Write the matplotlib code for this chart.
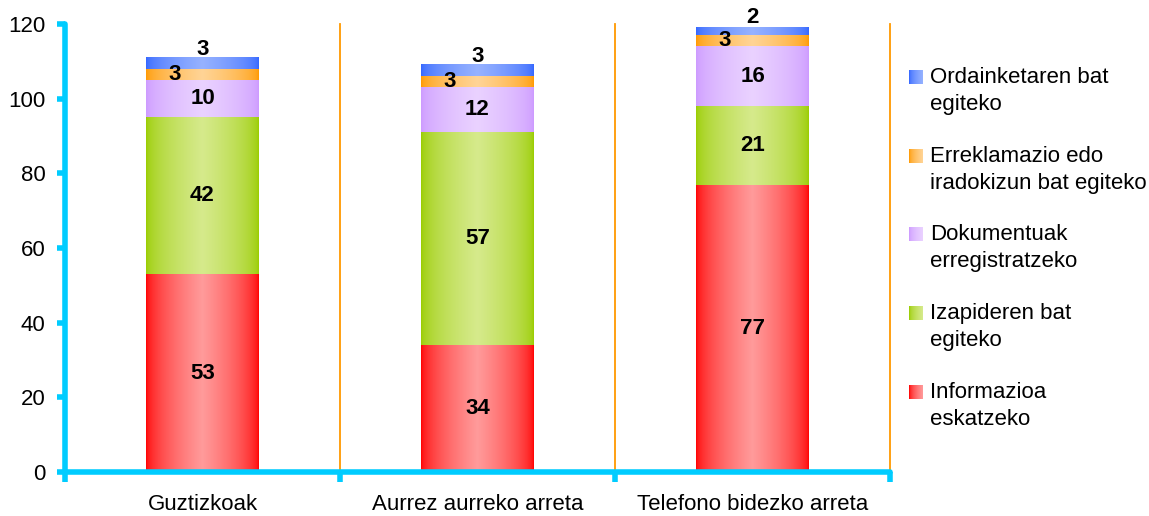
import matplotlib.pyplot as plt
import numpy as np

categories = ["Guztizkoak", "Aurrez aurreko arreta", "Telefono bidezko arreta"]
series_names = ["Informazioa\neskatzeko", "Izapideren bat\negiteko", "Dokumentuak\nerregistratzeko",
                "Erreklamazio edo\niradokizun bat egiteko", "Ordainketaren bat\negiteko"]
informazioa = [53, 34, 77]
izapidea = [42, 57, 21]
dokumentuak = [10, 12, 16]
erreklamazioa = [3, 3, 3]
ordainketa = [3, 3, 2]
yticks = [0, 20, 40, 60, 80, 100, 120]

series = [informazioa, izapidea, dokumentuak, erreklamazioa, ordainketa]
edge_cols = [(255, 0, 0), (153, 204, 0), (204, 153, 255), (255, 153, 0), (51, 102, 255)]
light_cols = [(255, 155, 155), (214, 234, 140), (234, 210, 255), (255, 212, 150), (150, 178, 255)]

CYAN = "#00CCFF"
ORANGE = "#FF9900"
FS = 16
plt.rcParams['font.family'] = ['Liberation Sans', 'DejaVu Sans']


def gradient(edge, light, n=200):
    t = np.linspace(-1, 1, n)
    m = (1 - np.abs(t)) ** 0.55
    e = np.array(edge) / 255.0
    l = np.array(light) / 255.0
    return (e[None, :] * (1 - m[:, None]) + l[None, :] * m[:, None])[None, :, :]


fig = plt.figure(figsize=(11.49, 5.16), dpi=100)
ax = fig.add_axes([65 / 1149, 1 - 472 / 516, (890 - 65) / 1149, (472 - 24) / 516])

x = np.arange(len(categories))
width = 0.41
bottoms = np.zeros(len(categories))
for k, vals in enumerate(series):
    img = gradient(edge_cols[k], light_cols[k])
    for i, v in enumerate(vals):
        b = bottoms[i]
        ax.imshow(img, extent=[x[i] - width / 2, x[i] + width / 2, b, b + v],
                  aspect='auto', interpolation='bilinear', zorder=2)
        ty = b + v / 2
        tx = x[i]
        if k == len(series) - 1:
            ty += 3.8
        elif k == len(series) - 2:
            tx -= 0.1
        ax.text(tx, ty, str(v), ha='center', va='center', fontsize=FS,
                fontweight='bold', color='black', zorder=4)
    bottoms += np.array(vals)

# separators between categories
for sx in [0.5, 1.5, 2.5]:
    ax.plot([sx, sx], [0, 120], color=ORANGE, lw=1.3, zorder=1, clip_on=False)

ax.set_xlim(-0.5, 2.5)
ax.set_ylim(0, 120)
ax.set_yticks(yticks)
ax.set_yticklabels([str(t) for t in yticks], fontsize=FS)
ax.set_xticks([-0.5, 0.5, 1.5, 2.5])
ax.set_xticklabels([])
ax.set_xticks(x, minor=True)
ax.set_xticklabels(categories, minor=True, fontsize=FS)
ax.tick_params(axis='x', which='minor', length=0, pad=16)
ax.tick_params(axis='x', which='major', direction='out', length=7, width=4, color=CYAN)
ax.tick_params(axis='y', direction='out', length=6, width=4, color=CYAN, pad=8)
for t in ax.yaxis.get_major_ticks() + ax.xaxis.get_major_ticks():
    t.tick1line.set_solid_capstyle('round')
for s in ['top', 'right']:
    ax.spines[s].set_visible(False)
for s in ['left', 'bottom']:
    ax.spines[s].set_color(CYAN)
    ax.spines[s].set_linewidth(4)
    ax.spines[s].set_capstyle('round')
    ax.spines[s].set_zorder(5)

# legend with gradient swatches, top entry first
lax = fig.add_axes([0, 0, 1, 1])
lax.axis('off')
legend_y = [77, 156, 234, 313, 392]
for j, k in enumerate(range(len(series) - 1, -1, -1)):
    yc = legend_y[j]
    sw = gradient(edge_cols[k], light_cols[k], 50)[:, :25, :]
    lax.imshow(sw, extent=[909, 923, yc + 7, yc - 7], aspect='auto')
    lax.text(930, yc - 10, series_names[k], ha='left', va='top', fontsize=FS,
             linespacing=1.38)
lax.set_xlim(0, 1149)
lax.set_ylim(516, 0)

fig.savefig("out.png", dpi=100)
